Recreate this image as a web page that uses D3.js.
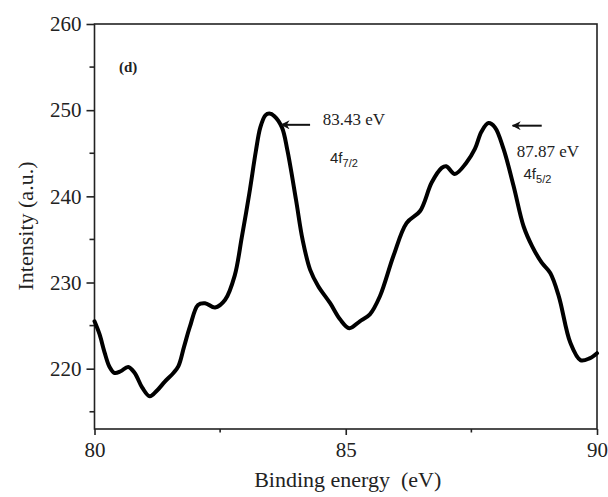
<!DOCTYPE html>
<html>
<head>
<meta charset="utf-8">
<script src="https://cdn.jsdelivr.net/npm/d3@7"></script>
<style>
  body { margin: 0; background: #fff; }
  svg { display: block; }
  text { fill: #222; }
</style>
</head>
<body>
<svg id="chart"></svg>
<script>
// spectrum
var energy = [80.00, 80.10, 80.20, 80.30, 80.40, 80.52, 80.67, 80.80, 80.95, 81.10,
              81.25, 81.40, 81.57, 81.67, 81.78, 81.90, 82.06, 82.20, 82.40, 82.60,
              82.79, 82.93, 83.08, 83.21, 83.30, 83.40, 83.48, 83.58, 83.73, 83.84,
              84.01, 84.14, 84.29, 84.45, 84.69, 84.89, 85.07, 85.28, 85.48, 85.68,
              85.95, 86.21, 86.48, 86.71, 86.91, 87.00, 87.17, 87.40, 87.57, 87.70,
              87.84, 87.97, 88.14, 88.34, 88.54, 88.71, 88.90, 89.07, 89.24, 89.47,
              89.67, 89.85, 90.00];
var intensity = [225.5, 224.0, 221.9, 220.2, 219.5, 219.7, 220.2, 219.5, 217.8, 216.8,
                 217.5, 218.5, 219.5, 220.3, 222.5, 224.9, 227.4, 227.6, 227.1, 228.0,
                 230.8, 235.2, 240.3, 245.2, 248.0, 249.4, 249.6, 249.3, 248.0, 245.3,
                 239.6, 235.0, 231.5, 229.6, 227.6, 225.7, 224.7, 225.5, 226.3, 228.4,
                 233.1, 236.9, 238.3, 241.6, 243.3, 243.5, 242.6, 243.9, 245.5, 247.5,
                 248.5, 248.0, 245.5, 241.2, 236.5, 234.2, 232.3, 231.1, 228.4, 223.0,
                 221.0, 221.2, 221.8];

var xTicks = [80, 85, 90];
var xMinor = [82.5, 87.5];
var yTicks = [220, 230, 240, 250, 260];
var yMinor = [215, 225, 235, 245, 255];

// peak labels: arrow tip / tail in data units
var peakValue = ["83.43 eV", "87.87 eV"];
var peakOrbital = ["7/2", "5/2"];
var arrowTip = [[83.72, 248.3], [88.32, 248.2]];
var arrowTail = [[84.29, 248.3], [88.90, 248.2]];

var width = 608, height = 497;
var svg = d3.select("#chart").attr("width", width).attr("height", height);

var x = d3.scaleLinear().domain([80, 90]).range([94.5, 597]);
var y = d3.scaleLinear().domain([213, 260]).range([429, 24]);

var axisColor = "#222";
var serif = "Liberation Serif, Times New Roman, serif";

// frame
svg.append("rect")
   .attr("x", x(80)).attr("y", y(260))
   .attr("width", x(90) - x(80)).attr("height", y(213) - y(260))
   .attr("fill", "none").attr("stroke", axisColor).attr("stroke-width", 1.6);

// x axis
var gx = svg.append("g").attr("transform", "translate(0," + y(213) + ")");
gx.call(d3.axisBottom(x).tickValues(xTicks).tickSize(6).tickPadding(7).tickFormat(d3.format("d")));
gx.select(".domain").remove();
gx.selectAll(".tick line").attr("stroke", axisColor).attr("stroke-width", 1.6);
gx.selectAll(".tick text").attr("font-family", serif)
  .attr("font-size", "21px").attr("fill", "#222");
gx.selectAll(".minor").data(xMinor).enter().append("line")
  .attr("x1", d => x(d)).attr("x2", d => x(d)).attr("y1", 0).attr("y2", 3.5)
  .attr("stroke", axisColor).attr("stroke-width", 1.6);

// y axis
var gy = svg.append("g").attr("transform", "translate(" + x(80) + ",0)");
gy.call(d3.axisLeft(y).tickValues(yTicks).tickSize(8).tickPadding(5).tickFormat(d3.format("d")));
gy.select(".domain").remove();
gy.selectAll(".tick line").attr("stroke", axisColor).attr("stroke-width", 1.6);
gy.selectAll(".tick text").attr("font-family", serif)
  .attr("font-size", "21px").attr("fill", "#222");
gy.selectAll(".minor").data(yMinor).enter().append("line")
  .attr("x1", 0).attr("x2", -5).attr("y1", d => y(d)).attr("y2", d => y(d))
  .attr("stroke", axisColor).attr("stroke-width", 1.6);

// axis titles
svg.append("text")
   .attr("x", (x(80) + x(90)) / 2 + 2).attr("y", 487)
   .attr("text-anchor", "middle")
   .attr("font-family", serif)
   .attr("font-size", "22px")
   .attr("xml:space", "preserve")
   .text("Binding energy  (eV)");

svg.append("text")
   .attr("transform", "translate(33," + 226 + ") rotate(-90)")
   .attr("text-anchor", "middle")
   .attr("font-family", serif)
   .attr("font-size", "22px")
   .text("Intensity (a.u.)");

// panel tag
svg.append("text")
   .attr("x", 119).attr("y", 72)
   .attr("font-family", serif)
   .attr("font-weight", "bold")
   .attr("font-size", "15px")
   .text("(d)");

// spectrum
var pts = energy.map((e, i) => [e, intensity[i]]);
var line = d3.line()
             .x(d => x(d[0]))
             .y(d => y(d[1]))
             .curve(d3.curveCatmullRom.alpha(0.5));

svg.append("path")
   .datum(pts)
   .attr("d", line)
   .attr("fill", "none")
   .attr("stroke", "#000")
   .attr("stroke-width", 4)
   .attr("stroke-linejoin", "round")
   .attr("stroke-linecap", "round");

// arrows (head at the start, pointing back to the peak)
svg.append("defs").append("marker")
   .attr("id", "head")
   .attr("viewBox", "0 0 10 10")
   .attr("refX", 1).attr("refY", 5)
   .attr("markerWidth", 4.5).attr("markerHeight", 4.5)
   .attr("orient", "auto")
   .append("path").attr("d", "M0,5 L10,0 L7,5 L10,10 Z").attr("fill", "#111");

for (var i = 0; i < arrowTip.length; i++) {
    svg.append("line")
       .attr("x1", x(arrowTip[i][0])).attr("y1", y(arrowTip[i][1]))
       .attr("x2", x(arrowTail[i][0])).attr("y2", y(arrowTail[i][1]))
       .attr("stroke", "#111").attr("stroke-width", 2)
       .attr("marker-start", "url(#head)");
}

// peak texts
var labelPos = [[322.7, 125], [516.7, 157]];
var orbPos = [[330, 163], [523.5, 179]];
for (var j = 0; j < peakValue.length; j++) {
    svg.append("text")
       .attr("x", labelPos[j][0]).attr("y", labelPos[j][1])
       .attr("font-family", serif)
       .attr("font-size", "17px")
       .text(peakValue[j]);
    var t = svg.append("text")
       .attr("x", orbPos[j][0]).attr("y", orbPos[j][1])
       .attr("font-family", "Liberation Sans, Arial, sans-serif")
       .attr("font-size", "15px");
    t.append("tspan").text("4f");
    t.append("tspan").attr("dy", 4).attr("font-size", "11px").text(peakOrbital[j]);
}
</script>
</body>
</html>
